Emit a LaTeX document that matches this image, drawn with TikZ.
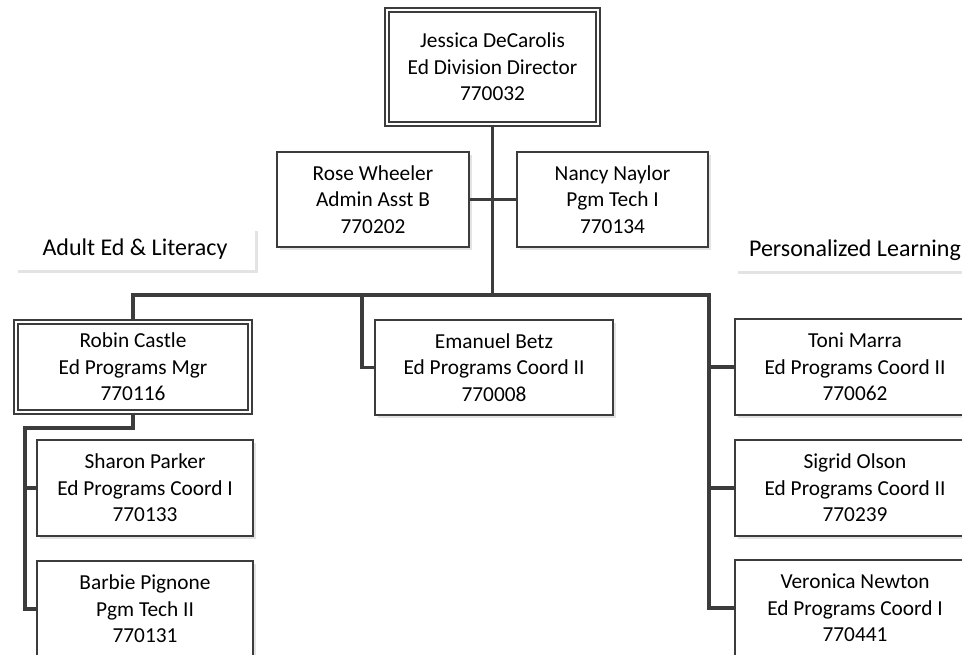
\documentclass[tikz,border=0pt]{standalone}
\usepackage{fontspec}
\setmainfont{Carlito}
\usetikzlibrary{shadows}
\definecolor{linec}{RGB}{60,60,60}
\begin{document}
\begin{tikzpicture}[x=0.75pt,y=-0.75pt,
  shad/.style={general shadow={fill=black!11, shadow xshift=2pt, shadow yshift=-2pt}},
  box/.style={rectangle, draw=linec, line width=1.6pt, fill=white, align=center,
    inner sep=0pt, font=\fontsize{16pt}{19.8pt}\selectfont, shad},
  dbox/.style={box, line width=1.45pt, double=white, double distance=1.9pt},
  lbox/.style={rectangle, fill=white, inner sep=0pt, align=center,
    font=\fontsize{18pt}{21pt}\selectfont, minimum width=180pt, minimum height=31.5pt, shad},
  conn/.style={draw=linec, line width=2.3pt}]
\useasboundingbox (0,0) rectangle (962,655);
\clip (0,0) rectangle (962,655);
\fill[white] (0,0) rectangle (962,655);

\node[dbox, minimum width=158.25pt, minimum height=85.5pt] (jessica) at (492.5,67)
  {Jessica DeCarolis\\Ed Division Director\\770032};
\node[box, minimum width=144pt, minimum height=71.25pt] (rose) at (373,199.5)
  {Rose Wheeler\\Admin Asst B\\770202};
\node[box, minimum width=143.25pt, minimum height=71.25pt] (nancy) at (612.5,199.5)
  {Nancy Naylor\\Pgm Tech I\\770134};

\node[lbox] (adult) at (135,249) {Adult Ed \& Literacy};
\node[lbox] (personal) at (855,250) {Personalized Learning};

\node[dbox, minimum width=175.5pt, minimum height=67.5pt] (robin) at (133,367)
  {Robin Castle\\Ed Programs Mgr\\770116};
\node[box, minimum width=178.5pt, minimum height=71.25pt] (emanuel) at (494,367.5)
  {Emanuel Betz\\Ed Programs Coord II\\770008};
\node[box, minimum width=180pt, minimum height=72pt] (toni) at (855,367)
  {Toni Marra\\Ed Programs Coord II\\770062};
\node[box, minimum width=180pt, minimum height=72pt] (sigrid) at (855,488)
  {Sigrid Olson\\Ed Programs Coord II\\770239};
\node[box, minimum width=180pt, minimum height=72pt] (veronica) at (855,608)
  {Veronica Newton\\Ed Programs Coord I\\770441};
\node[box, minimum width=162pt, minimum height=72pt] (sharon) at (145,488)
  {Sharon Parker\\Ed Programs Coord I\\770133};
\node[box, minimum width=162pt, minimum height=72pt] (barbie) at (145,609)
  {Barbie Pignone\\Pgm Tech II\\770131};

\coordinate (rv) at (709,295);
\coordinate (ev) at (362,295);
\coordinate (lv) at (25,428);

\draw[conn] (jessica.south) -- (jessica.south |- rv);
\draw[conn] (rose.east) -- (nancy.west);
\draw[conn] (robin.north) |- (rv) -- (rv |- veronica.west) -- (veronica.west);
\draw[conn] (rv |- toni.west) -- (toni.west);
\draw[conn] (rv |- sigrid.west) -- (sigrid.west);
\draw[conn] (ev) |- (emanuel.west);
\draw[conn] (robin.south) |- (lv) -- (lv |- barbie.west) -- (barbie.west);
\draw[conn] (lv |- sharon.west) -- (sharon.west);
\end{tikzpicture}
\end{document}
